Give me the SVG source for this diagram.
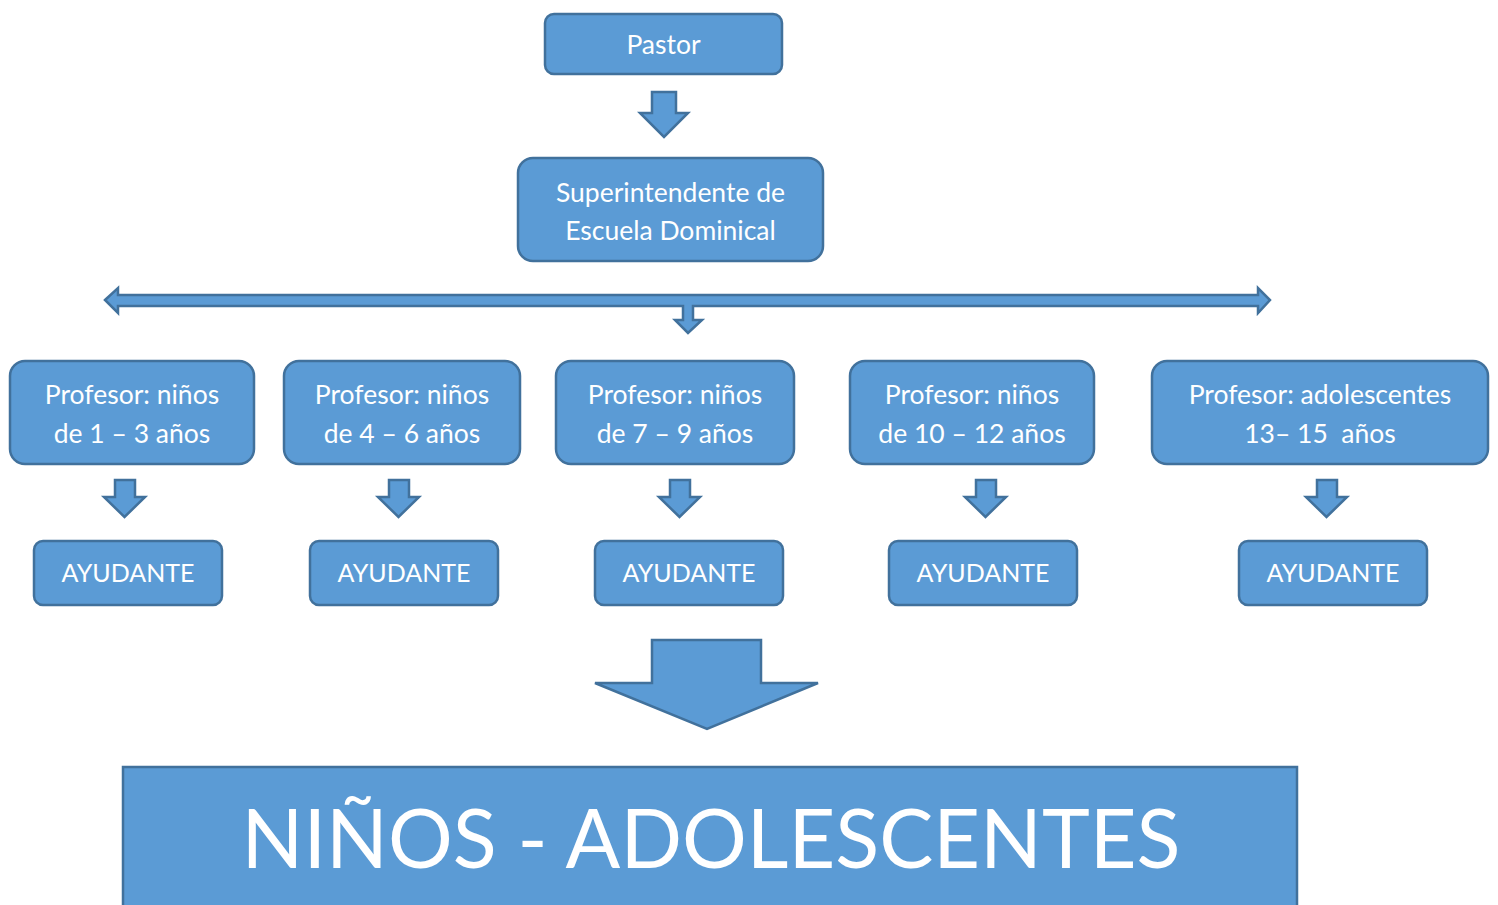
<svg xmlns="http://www.w3.org/2000/svg" width="1498" height="905" viewBox="0 0 1498 905">
<style>
.box{fill:#5B9BD5;stroke:#41719C;stroke-width:2.5}
.arr{fill:#5B9BD5;stroke:#41719C;stroke-width:2.5;stroke-linejoin:miter}
.t{fill:#FFFFFF;font-family:Lato,"Open Sans",sans-serif;font-size:26.5px;text-anchor:middle}
.a{fill:#FFFFFF;font-family:Lato,"Open Sans",sans-serif;font-size:25px;text-anchor:middle}
.big{fill:#FFFFFF;font-family:Lato,"Open Sans",sans-serif;font-size:81px;text-anchor:middle}
</style>
<rect width="1498" height="905" fill="#FFFFFF"/>
<g id="connectors">
<path class="arr" d="M652,92 H676 V113 H688 L664,137 L640,113 H652 Z"/>
<path class="arr" d="M105,300 L118,288 V295 H683 H693 H1258 V288 L1270,300 L1258,313 V306 H693 V320 H702 L688,333 L675,320 H683 V306 H118 V313 Z"/>
<path class="arr" d="M115,480 H135 V497 H145 L124.5,517 L104,497 H115 Z"/>
<path class="arr" d="M389,480 H409 V497 H419 L398.5,517 L378,497 H389 Z"/>
<path class="arr" d="M670,480 H690 V497 H700 L679.5,517 L659,497 H670 Z"/>
<path class="arr" d="M976,480 H996 V497 H1006 L985.5,517 L965,497 H976 Z"/>
<path class="arr" d="M1317,480 H1337 V497 H1347 L1326.5,517 L1306,497 H1317 Z"/>
<path class="arr" d="M652,640 H761 V683 H818 L707,729 L595,683 H652 Z"/>
</g>
<g id="pastor">
<rect class="box" x="545" y="14" width="237" height="60" rx="9"/>
<text class="t" x="663.5" y="54">Pastor</text>
</g>
<g id="superintendente">
<rect class="box" x="518" y="158" width="305" height="103" rx="15"/>
<text class="t" x="670.5" y="202">Superintendente de</text>
<text class="t" x="670.5" y="240">Escuela Dominical</text>
</g>
<g id="prof1">
<rect class="box" x="10" y="361" width="244" height="103" rx="15"/>
<text class="t" x="132" y="404">Profesor: niños</text>
<text class="t" x="132" y="443">de 1 – 3 años</text>
</g>
<g id="prof2">
<rect class="box" x="284" y="361" width="236" height="103" rx="15"/>
<text class="t" x="402" y="404">Profesor: niños</text>
<text class="t" x="402" y="443">de 4 – 6 años</text>
</g>
<g id="prof3">
<rect class="box" x="556" y="361" width="238" height="103" rx="15"/>
<text class="t" x="675" y="404">Profesor: niños</text>
<text class="t" x="675" y="443">de 7 – 9 años</text>
</g>
<g id="prof4">
<rect class="box" x="850" y="361" width="244" height="103" rx="15"/>
<text class="t" x="972" y="404">Profesor: niños</text>
<text class="t" x="972" y="443">de 10 – 12 años</text>
</g>
<g id="prof5">
<rect class="box" x="1152" y="361" width="336" height="103" rx="15"/>
<text class="t" x="1320" y="404">Profesor: adolescentes</text>
<text class="t" x="1320" y="443" xml:space="preserve">13– 15  años</text>
</g>
<g id="ayud1">
<rect class="box" x="34" y="541" width="188" height="64" rx="9"/>
<text class="a" x="128" y="582">AYUDANTE</text>
</g>
<g id="ayud2">
<rect class="box" x="310" y="541" width="188" height="64" rx="9"/>
<text class="a" x="404" y="582">AYUDANTE</text>
</g>
<g id="ayud3">
<rect class="box" x="595" y="541" width="188" height="64" rx="9"/>
<text class="a" x="689" y="582">AYUDANTE</text>
</g>
<g id="ayud4">
<rect class="box" x="889" y="541" width="188" height="64" rx="9"/>
<text class="a" x="983" y="582">AYUDANTE</text>
</g>
<g id="ayud5">
<rect class="box" x="1239" y="541" width="188" height="64" rx="9"/>
<text class="a" x="1333" y="582">AYUDANTE</text>
</g>
<g id="ninos">
<rect class="box" x="123" y="767" width="1174" height="150"/>
<text class="big" x="711" y="868">NIÑOS - ADOLESCENTES</text>
</g>
</svg>
